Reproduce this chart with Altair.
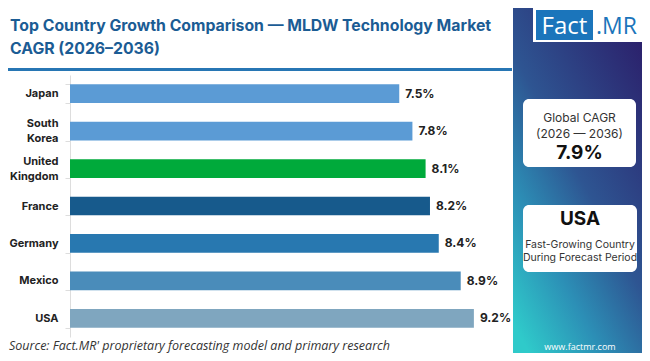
import altair as alt
import pandas as pd

countries = ["Japan", "South Korea", "United Kingdom", "France", "Germany", "Mexico", "USA"]
values = [7.5, 7.8, 8.1, 8.2, 8.4, 8.9, 9.2]
bar_colors = ["#5b9bd5", "#5b9bd5", "#00aa3b", "#175a8c", "#2878b0", "#4a8cba", "#7fa6bf"]

title_lines = ["Top Country Growth Comparison \u2014 MLDW Technology Market", "CAGR (2026\u20132036)"]
global_lines = ["Global CAGR", "(2026 \u2014 2036)", "7.9%"]
fast_lines = ["USA", "Fast-Growing Country", "During Forecast Period"]
source_text = "Source: Fact.MR' proprietary forecasting model and primary research"
site_text = "www.factmr.com"

df = pd.DataFrame({
    "country": countries,
    "value": values,
    "color": bar_colors,
    "label": [f"{v}%" for v in values],
})

# plot origin in page coordinates
OX, OY = 70, 75
W, H = 439, 262


def px(x):
    return x - OX


def py(y):
    return y - OY


FONT = "Inter"
base = alt.Chart(pd.DataFrame({"k": [0]}))


def rect(x1, x2, y1, y2, color, r=0):
    return base.mark_rect(color=color, cornerRadius=r).encode(
        x=alt.value(px(x1)), x2=alt.value(px(x2)), y=alt.value(py(y1)), y2=alt.value(py(y2))
    )


def text(s, x, y, size, color, weight="normal", align="center", style="normal", font=FONT):
    return base.mark_text(
        text=s, fontSize=size, color=color, fontWeight=weight, align=align,
        baseline="alphabetic", fontStyle=style, font=font,
    ).encode(x=alt.value(px(x)), y=alt.value(py(y)))


grad = alt.LinearGradient(
    gradient="linear",
    stops=[
        alt.GradientStop(color="#2b1d69", offset=0),
        alt.GradientStop(color="#2e5592", offset=0.5),
        alt.GradientStop(color="#2c8fb6", offset=0.75),
        alt.GradientStop(color="#2fcaca", offset=1),
    ],
    x1=0.85, y1=0, x2=0.15, y2=1,
)

deco = [
    rect(513, 650, 0, 361, grad),
    base.mark_rule(color="#2776b4", strokeWidth=3).encode(
        x=alt.value(px(0)), x2=alt.value(px(512)), y=alt.value(py(69.5))
    ),
    text(title_lines[0], 10, 31, 15.8, "#1b5c94", "bold", "left"),
    text(title_lines[1], 10, 54, 15.8, "#1b5c94", "bold", "left"),
    # logo
    rect(533, 642, 8, 42, "#ffffff"),
    rect(536, 593, 10, 40, "#1b75bb"),
    text("Fact", 564.5, 34, 24, "#ffffff", "normal", "center", font="Open Sans"),
    text(".MR", 616.5, 34, 23, "#1b75bb", "normal", "center", font="Open Sans"),
    # global CAGR box
    rect(523, 636, 99, 167, "#ffffff", 6),
    text(global_lines[0], 579.5, 122, 12, "#333333"),
    text(global_lines[1], 579.5, 138, 12, "#333333"),
    text(global_lines[2], 579.5, 159, 19, "#111111", "bold"),
    # fast-growing box
    rect(523, 637, 205, 272, "#ffffff", 6),
    text(fast_lines[0], 580, 225, 19, "#111111", "bold"),
    text(fast_lines[1], 580, 248, 10.5, "#333333"),
    text(fast_lines[2], 580, 261, 10.5, "#333333"),
    text(site_text, 580, 350, 9, "#ffffff", font="Open Sans"),
    text(source_text, 9, 350, 12.5, "#333333", "normal", "left", "italic", font="Open Sans"),
]

y_enc = alt.Y(
    "country:N",
    sort=countries,
    scale=alt.Scale(paddingInner=0.5, paddingOuter=0.25),
    axis=alt.Axis(
        title=None,
        labelExpr="split(datum.label, ' ')",
        labelFont=FONT,
        labelFontWeight="bold",
        labelFontSize=11,
        labelColor="#222222",
        labelLineHeight=15,
        labelPadding=7,
        labelOffset={"condition": {"test": "indexof(datum.label, ' ') >= 0", "value": -7.5}, "value": 0},
        tickBand="extent",
        tickSize=5,
        tickColor="#dddddd",
        domainColor="#dddddd",
        grid=False,
    ),
)
x_enc = alt.X("value:Q", scale=alt.Scale(domain=[0, 10]), axis=None)

bars = alt.Chart(df).mark_bar().encode(
    y=y_enc, x=x_enc, color=alt.Color("color:N", scale=None)
)
labels = alt.Chart(df).mark_text(
    align="left", baseline="middle", dx=6, font=FONT, fontWeight="bold", fontSize=12, color="#222222"
).encode(y=alt.Y("country:N", sort=countries), x="value:Q", text="label:N")

chart = alt.layer(*deco, bars, labels).properties(
    width=W,
    height=H,
    padding={"left": OX - 8, "top": OY - 8, "right": 650 - 8 - OX - W, "bottom": 361 - 8 - OY - H},
    autosize=alt.AutoSizeParams(type="none"),
    background="#ffffff",
).configure_view(stroke=None)

chart.save("out.html", embed_options={"renderer": "svg", "actions": False})
